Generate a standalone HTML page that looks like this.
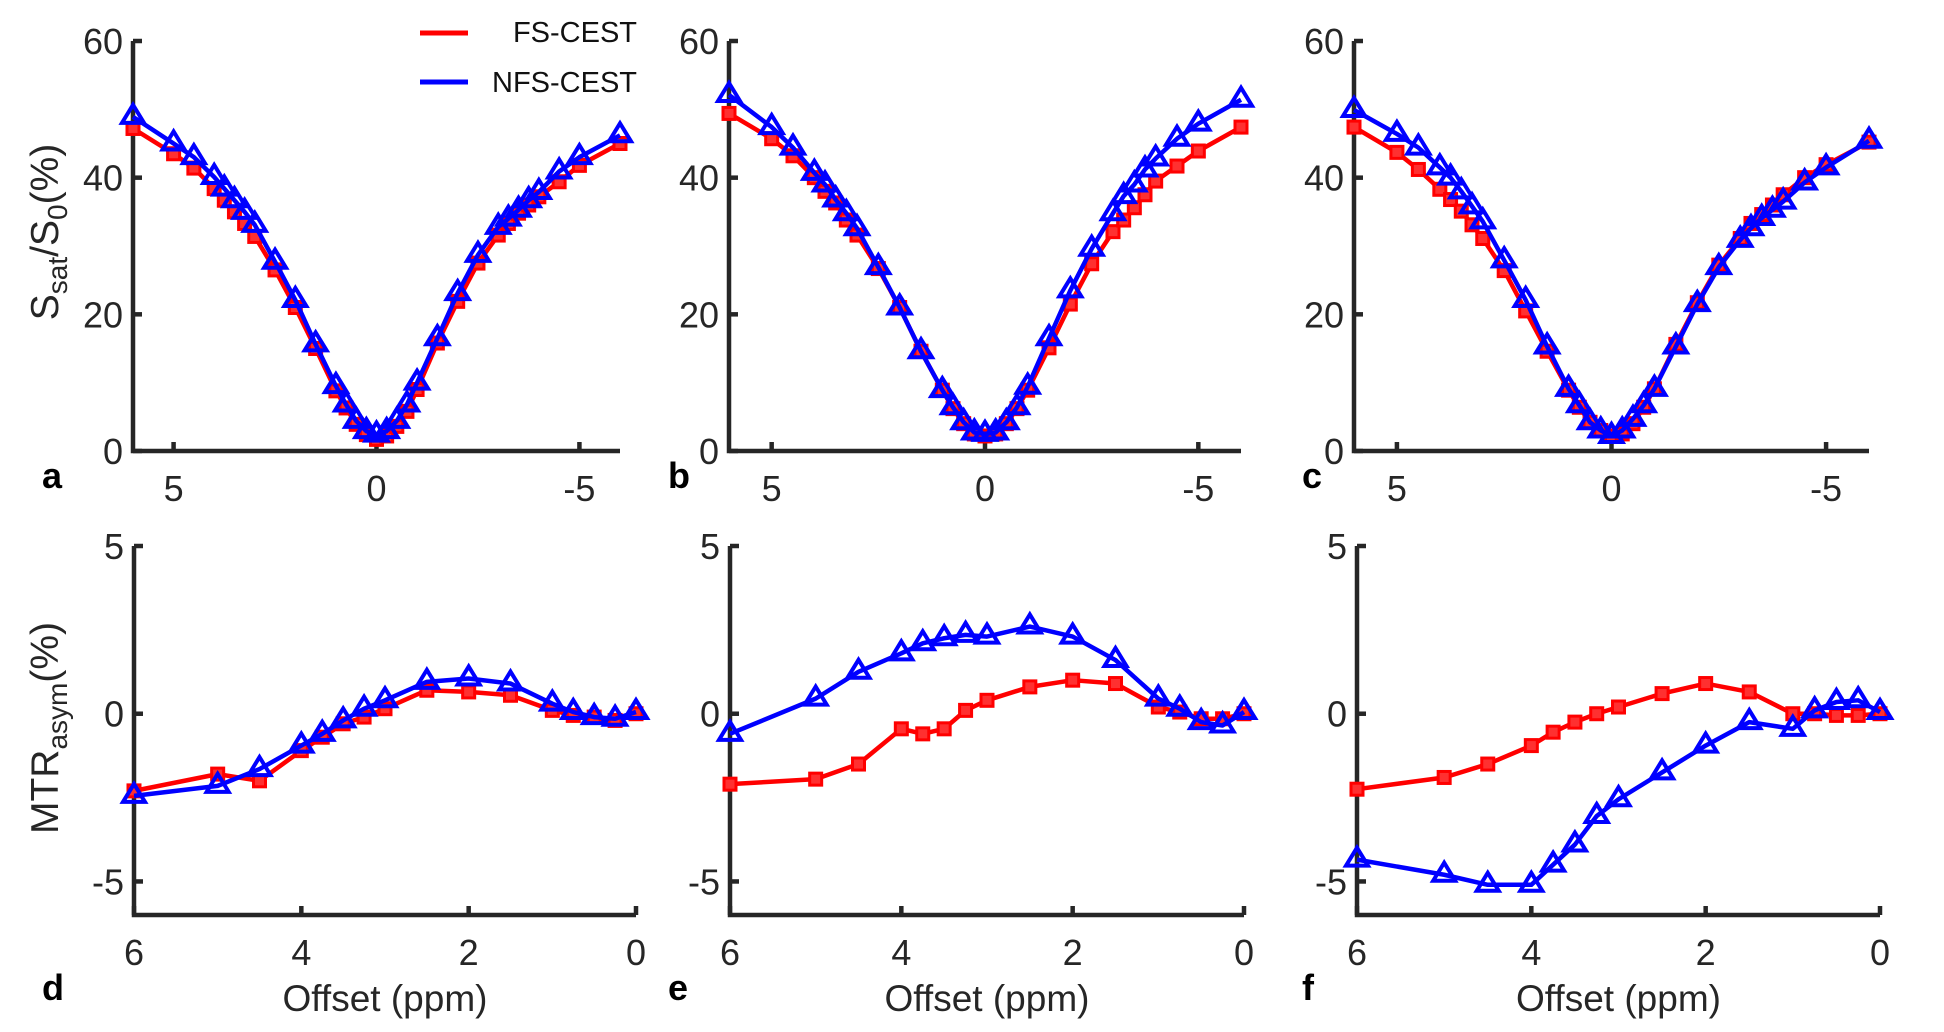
<!DOCTYPE html>
<html><head><meta charset="utf-8"><style>
html,body{margin:0;padding:0;background:#fff;}
svg{display:block;font-family:"Liberation Sans",Arial,sans-serif;}
</style></head><body>
<svg id="fig" width="1944" height="1032" viewBox="0 0 1944 1032" xmlns="http://www.w3.org/2000/svg"></svg>
<script>
// ---- data ----
const zOffsets = [6,5,4.5,4,3.75,3.5,3.25,3,2.5,2,1.5,1,0.75,0.5,0.25,0,-0.25,-0.5,-0.75,-1,-1.5,-2,-2.5,-3,-3.25,-3.5,-3.75,-4,-4.5,-5,-6];
const aFS  = [47.2,43.5,41.4,38.4,36.7,35,33.3,31.4,26.5,21,15,8.8,6.3,3.9,2.4,1.7,2.2,3.6,5.8,9,15.8,21.9,27.5,31.6,33.3,34.8,36,37.2,39.4,41.8,45];
const aNFS = [48.9,45,43,40.1,38.4,36.7,35,33.1,27.7,22.1,15.6,9.5,6.8,4.4,2.9,2.4,2.9,4.4,6.8,10,16.5,23.1,28.7,32.8,34,35.3,36.7,37.9,40.9,43,46.2];
const bFS  = [49.4,45.7,43.2,40,38,36.3,33.8,31.6,26.7,21,14.6,8.9,6.2,4,2.5,2.2,2.5,4,6.2,8.9,15.1,21.5,27.4,32.1,33.8,35.6,37.5,39.5,41.7,43.9,47.4];
const bNFS = [52.1,47.4,44.4,40.7,39,36.8,34.8,32.6,26.9,21,14.6,8.9,6.4,4.2,2.7,2.5,2.7,4.2,6.4,9.4,16.5,23.5,29.6,34.8,37.3,39,41.2,42.8,45.7,47.9,51.4];
const cFS  = [47.4,43.7,41.2,38.3,36.8,35.1,33.1,31.1,26.4,20.5,14.6,8.9,6.4,4.2,3,2.2,2.5,4,6.4,9.1,15.6,21.7,27.2,31.1,33.3,34.6,36,37.5,40,41.9,45.2];
const cNFS = [49.9,46.4,44.4,41.5,40,38,35.8,33.6,27.9,22.1,15.3,9.1,6.7,4.2,3,2.2,3,4.7,6.7,9.1,15.3,21.5,26.9,30.9,32.6,34.1,35.3,36.5,39.3,41.5,45.4];
const mOffsets = [6,5,4.5,4,3.75,3.5,3.25,3,2.5,2,1.5,1,0.75,0.5,0.25,0];
const dFS  = [-2.3,-1.8,-2.0,-1.1,-0.7,-0.3,-0.1,0.15,0.7,0.65,0.55,0.1,-0.05,-0.1,-0.2,0];
const dNFS = [-2.45,-2.15,-1.65,-0.95,-0.6,-0.2,0.15,0.4,0.95,1.05,0.9,0.3,0.05,-0.1,-0.15,0.05];
const eFS  = [-2.1,-1.95,-1.5,-0.45,-0.6,-0.45,0.1,0.4,0.8,1.0,0.9,0.2,0.05,-0.15,-0.15,0];
const eNFS = [-0.6,0.45,1.25,1.8,2.1,2.25,2.35,2.3,2.6,2.3,1.6,0.45,0.15,-0.25,-0.35,0.05];
const fFS  = [-2.25,-1.9,-1.5,-0.95,-0.55,-0.25,0,0.2,0.6,0.9,0.65,0,0,-0.05,-0.05,0];
const fNFS = [-4.35,-4.8,-5.1,-5.1,-4.5,-3.9,-3.05,-2.55,-1.75,-0.95,-0.25,-0.45,0.1,0.35,0.4,0.05];
const zXTicks = [5,0,-5];
const zYTicks = [0,20,40,60];
const mXTicks = [6,4,2,0];
const mYTicks = [-5,0,5];

const NS = "http://www.w3.org/2000/svg";
const svg = document.getElementById('fig');
const AX = "#262626";
function el(tag, attrs, parent){
  const e = document.createElementNS(NS, tag);
  for (const k in attrs) e.setAttribute(k, attrs[k]);
  (parent||svg).appendChild(e);
  return e;
}
function txt(s, x, y, size, anchor, parent, weight){
  const t = el('text', {x:x, y:y, 'font-size':size, 'text-anchor':anchor||'middle', fill:AX}, parent);
  if (weight) t.setAttribute('font-weight', weight);
  t.textContent = s;
  return t;
}

function panel(cfg){
  const g = el('g', {});
  
  
  const sx = v => cfg.x0 + (cfg.xmin - v) / (cfg.xmin - cfg.xmax) * (cfg.x1 - cfg.x0);
  const sy = v => cfg.y0 + (cfg.ymax - v) / (cfg.ymax - cfg.ymin) * (cfg.y1 - cfg.y0);
  const ax = el('path', {d:`M${cfg.x0},${sy(cfg.ymax)} L${cfg.x0},${cfg.y1} L${cfg.x1},${cfg.y1}`, fill:'none', stroke:AX, 'stroke-width':4.5}, g);
  
  
  cfg.yTicks.forEach(v => {
    const y = sy(v);
    const tk = el('line', {x1:cfg.x0, x2:cfg.x0+9, y1:y, y2:y, stroke:AX, 'stroke-width':4.5}, g);
    
    
    const lb = txt(String(v), cfg.x0-10, y+13, 36, 'end', g);
    
    
  });
  cfg.xTicks.forEach(v => {
    const x = sx(v);
    const tk = el('line', {x1:x, x2:x, y1:cfg.y1, y2:cfg.y1-9, stroke:AX, 'stroke-width':4.5}, g);
    
    
    const lb = txt(String(v), x, cfg.y1+50, 36, 'middle', g);
    
    
  });
  const series = [
    {vals:cfg.fs, color:'#ff0000', marker:'sq', name:'fs-cest-series'},
    {vals:cfg.nfs, color:'#0000ff', marker:'tri', name:'nfs-cest-series'}
  ];
  series.forEach(s => {
    const sg = el('g', {}, g);
    
    
    const pts = cfg.xs.map((x,i) => [sx(x), sy(s.vals[i])]);
    const pl = el('polyline', {points: pts.map(p=>p.join(',')).join(' '), fill:'none', stroke:s.color, 'stroke-width':4.5, 'stroke-linejoin':'round'}, sg);
    
    
    pts.forEach(p => {
      let m;
      if (s.marker === 'sq') {
        m = el('rect', {x:p[0]-6, y:p[1]-6, width:12, height:12, fill:'#ff3030', stroke:s.color, 'stroke-width':3}, sg);
      } else {
        const r = 10;
        m = el('polygon', {points:`${p[0]},${p[1]-r-2} ${p[0]-r-1},${p[1]+r*0.6} ${p[0]+r+1},${p[1]+r*0.6}`, fill:'none', stroke:s.color, 'stroke-width':4, 'stroke-linejoin':'miter'}, sg);
      }
      
      
    });
  });
  const L = txt(cfg.letter, cfg.letterX, cfg.letterY, 36, 'start', g, 'bold');
  
  
  L.setAttribute('fill', '#000');
  if (cfg.xlabel) {
    const xl = txt('Offset (ppm)', (cfg.x0+cfg.x1)/2, cfg.y1+96, 37, 'middle', g);
    
    
  }
}

const topY0 = 41, topY1 = 451;
panel({name:'panel-a', xs:zOffsets, fs:aFS, nfs:aNFS, x0:133, x1:620, xmin:6, xmax:-6, y0:topY0, y1:topY1, ymin:0, ymax:60, xTicks:zXTicks, yTicks:zYTicks, letter:'a', letterX:42, letterY:488});
panel({name:'panel-b', xs:zOffsets, fs:bFS, nfs:bNFS, x0:729, x1:1241, xmin:6, xmax:-6, y0:topY0, y1:topY1, ymin:0, ymax:60, xTicks:zXTicks, yTicks:zYTicks, letter:'b', letterX:668, letterY:488});
panel({name:'panel-c', xs:zOffsets, fs:cFS, nfs:cNFS, x0:1354, x1:1869, xmin:6, xmax:-6, y0:topY0, y1:topY1, ymin:0, ymax:60, xTicks:zXTicks, yTicks:zYTicks, letter:'c', letterX:1302, letterY:488});
const botY0 = 546, botY1 = 915;
panel({name:'panel-d', xs:mOffsets, fs:dFS, nfs:dNFS, x0:134, x1:636, xmin:6, xmax:0, y0:botY0, y1:botY1, ymin:-6, ymax:5, xTicks:mXTicks, yTicks:mYTicks, letter:'d', letterX:42, letterY:1000, xlabel:true});
panel({name:'panel-e', xs:mOffsets, fs:eFS, nfs:eNFS, x0:730, x1:1244, xmin:6, xmax:0, y0:botY0, y1:botY1, ymin:-6, ymax:5, xTicks:mXTicks, yTicks:mYTicks, letter:'e', letterX:668, letterY:1000, xlabel:true});
panel({name:'panel-f', xs:mOffsets, fs:fFS, nfs:fNFS, x0:1357, x1:1880, xmin:6, xmax:0, y0:botY0, y1:botY1, ymin:-6, ymax:5, xTicks:mXTicks, yTicks:mYTicks, letter:'f', letterX:1302, letterY:1000, xlabel:true});

(function(){
  const y1 = document.createElementNS(NS,'text');
  
  
  y1.setAttribute('transform','translate(58,232) rotate(-90)');
  y1.setAttribute('text-anchor','middle');
  y1.setAttribute('font-size','39');
  y1.setAttribute('fill',AX);
  y1.innerHTML = 'S<tspan font-size="28" dy="9">sat</tspan><tspan dy="-9">/S</tspan><tspan font-size="28" dy="9">0</tspan><tspan dy="-9">(%)</tspan>';
  svg.appendChild(y1);
  const y2 = document.createElementNS(NS,'text');
  
  
  y2.setAttribute('transform','translate(58,728) rotate(-90)');
  y2.setAttribute('text-anchor','middle');
  y2.setAttribute('font-size','39');
  y2.setAttribute('fill',AX);
  y2.innerHTML = 'MTR<tspan font-size="28" dy="9">asym</tspan><tspan dy="-9">(%)</tspan>';
  svg.appendChild(y2);

  const lg = el('g', {});
  
  
  const l1 = el('line', {x1:420, x2:468, y1:33, y2:33, stroke:'#ff0000', 'stroke-width':5}, lg);
  
  
  const t1 = txt('FS-CEST', 637, 42, 29, 'end', lg);
  
  
  t1.setAttribute('fill', '#111');
  const l2 = el('line', {x1:420, x2:468, y1:82, y2:82, stroke:'#0000ff', 'stroke-width':5}, lg);
  
  
  const t2 = txt('NFS-CEST', 637, 92, 29, 'end', lg);
  
  
  t2.setAttribute('fill', '#111');
})();
</script>
</body></html>
